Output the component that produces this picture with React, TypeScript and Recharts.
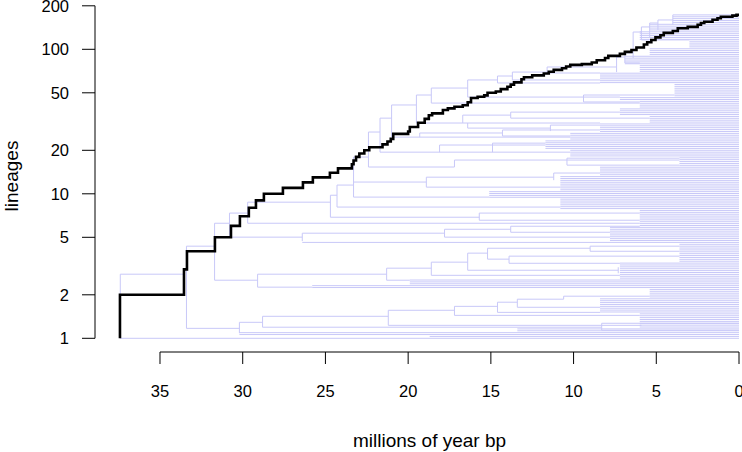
import React from 'react';
import { ComposedChart, Line, XAxis, YAxis, ReferenceLine } from 'recharts';

// lineages-through-time curve (time in My before present, lineage count)
const lttTime = [
  37.42, 37.42, 33.55, 33.37, 31.68, 30.71, 30.17, 29.63, 29.2, 28.72, 27.57, 26.36, 25.76, 24.73, 24.24,
  23.4, 23.3, 23.15, 22.95, 22.65, 22.35, 21.55, 21.25, 21.05, 20.9, 20.0, 19.9, 19.4, 19.0, 18.75, 18.55,
  17.9, 17.6, 17.2, 16.7, 16.4, 16.2, 15.8, 15.4, 15.2, 14.7, 14.4, 14.0, 13.8, 13.6, 13.15, 13.0, 12.5,
  11.8, 11.5, 11.2, 10.7, 10.45, 10.2, 9.5, 8.9, 8.6, 8.1, 7.9, 7.2, 6.9, 6.5, 6.2, 5.75, 5.55, 5.3, 5.05,
  4.75, 4.55, 4.0, 3.7, 3.1, 2.5, 2.3, 2.1, 1.6, 1.3, 1.1, 0.4, 0.15, 0,
];
const lttCount = [
  1, 2, 3, 4, 5, 6, 7, 8, 9, 10, 11, 12, 13, 14, 15,
  16, 17, 18, 19, 20, 21, 22, 23, 24, 26, 27, 29, 31, 33, 35, 36,
  38, 39, 40, 41, 43, 46, 47, 48, 50, 51, 53, 55, 57, 59, 62, 64, 66,
  68, 70, 72, 74, 76, 78, 79, 81, 84, 87, 90, 93, 96, 99, 103, 108, 112, 116, 121,
  125, 130, 134, 140, 143, 148, 152, 155, 160, 164, 168, 171, 173, 173,
];

// phylogeny drawn behind the curve; rows are tip slots (0 = bottom tip)
const nTips = 173;

// [first row, last row, branch start time] for tip branches running to the present
const tipBands = [
  [0, 0, 37.4], [1, 1, 18.7], [2, 3, 30.2], [4, 5, 13.4], [6, 13, 6.0], [14, 21, 8.4], [22, 26, 5.4],
  [27, 28, 25.8], [29, 31, 19.9], [32, 40, 7.2], [41, 50, 3.6], [51, 51, 26.4], [52, 59, 7.8],
  [60, 68, 6.0], [69, 74, 10.8], [75, 78, 15.1], [79, 86, 10.8], [87, 91, 8.4], [92, 96, 3.6],
  [97, 100, 10.2], [101, 105, 11.7], [106, 109, 10.2], [110, 114, 8.4], [115, 118, 5.4], [119, 122, 7.2],
  [123, 126, 6.0], [127, 128, 7.2], [129, 135, 3.9], [136, 141, 8.4], [142, 145, 6.0], [146, 150, 6.9],
  [151, 154, 5.4], [155, 158, 3.0], [159, 163, 6.0], [164, 167, 5.4], [168, 172, 4.0],
];

// [row, from time, to time] horizontal branches
const branches = [
  [34.1, 37.4, 33.5], [5.3, 33.4, 30.2], [8.5, 30.2, 28.8], [5.9, 28.8, 8.3], [11.7, 28.8, 21.2],
  [6.9, 21.2, 5.9], [14.9, 21.2, 17.2], [12.2, 17.2, 6.0], [17.0, 17.2, 14.6], [13.8, 14.6, 8.4],
  [19.2, 14.6, 13.4], [16.5, 13.4, 8.4], [20.8, 13.4, 10.6], [22.4, 10.6, 5.4], [4.3, 8.3, 0], [8.0, 8.3, 0],
  [49.0, 33.4, 31.7], [30.9, 31.7, 29.1], [27.2, 29.1, 25.8], [34.1, 29.1, 21.3], [30.9, 21.3, 19.9],
  [37.3, 21.3, 18.6], [33.5, 18.6, 7.2], [40.5, 18.6, 16.4], [36.2, 16.4, 7.3], [45.3, 16.4, 15.2],
  [47.9, 15.2, 9.0], [49.0, 9.0, 3.6], [46.3, 9.0, 3.6], [42.1, 15.2, 13.9], [43.7, 13.9, 3.6], [39.9, 13.9, 7.2],
  [61.2, 31.7, 30.8], [53.8, 30.8, 26.4], [55.9, 26.4, 17.8], [53.8, 17.8, 7.8], [58.0, 17.8, 13.8],
  [59.6, 13.8, 6.0], [56.4, 13.8, 7.8],
  [66.6, 30.8, 29.7], [61.2, 29.7, 6.0], [72.4, 29.7, 24.7], [64.4, 24.7, 15.7], [66.6, 15.7, 6.0],
  [62.8, 15.7, 6.0], [76.1, 24.7, 24.3], [69.8, 24.3, 10.8], [81.5, 24.3, 23.3], [75.1, 23.3, 15.1],
  [83.1, 23.3, 18.9], [85.7, 18.9, 11.2], [87.9, 11.2, 8.4], [80.4, 18.9, 10.8],
  [96.4, 23.3, 22.4], [91.1, 22.4, 17.2], [94.8, 17.2, 3.6], [109.7, 22.4, 21.7], [99.0, 21.7, 10.2],
  [102.8, 18.1, 11.7], [103.8, 14.9, 11.7], [117.1, 21.7, 21.0], [107.0, 21.0, 10.2], [109.2, 19.3, 14.3],
  [110.8, 14.3, 8.4], [107.6, 14.3, 10.2], [124.1, 21.0, 19.5], [114.5, 19.5, 8.4], [118.7, 16.7, 13.8],
  [120.3, 13.8, 7.2], [117.1, 13.8, 5.4], [111.8, 16.4, 11.4], [113.4, 11.4, 8.4],
  [129.4, 19.5, 18.6], [125.1, 18.6, 6.0], [133.1, 18.6, 16.4], [128.3, 16.4, 7.2], [137.4, 16.4, 14.6],
  [135.8, 14.6, 8.4], [139.5, 14.6, 13.7], [137.4, 13.7, 8.4], [141.6, 13.7, 11.6], [141.1, 11.6, 8.4],
  [144.3, 11.6, 7.4], [149.6, 7.4, 6.9], [146.4, 6.9, 6.0], [151.8, 6.9, 6.4], [162.9, 6.4, 5.9],
  [158.7, 5.9, 3.0], [165.6, 5.9, 5.4], [167.7, 5.4, 4.9], [169.3, 4.9, 4.0],
  [129.4, 9.4, 3.9], [125.7, 9.4, 6.0], [95.8, 10.4, 3.6], [92.1, 10.4, 3.6],
];

// [time, lower row, upper row] vertical node connectors
const links = [
  [37.4, 0, 34.1], [33.4, 5.3, 49.0], [30.2, 2.7, 8.5], [28.8, 5.9, 11.7], [8.3, 4.3, 8.0],
  [21.2, 6.9, 14.9], [17.2, 12.2, 17.0], [14.6, 13.8, 19.2], [13.4, 16.5, 20.8], [10.6, 20.8, 22.4],
  [31.7, 30.9, 61.2], [29.1, 27.2, 34.1], [21.3, 30.9, 37.3], [18.6, 33.5, 40.5], [16.4, 36.2, 45.3],
  [7.3, 34.6, 37.8], [15.2, 42.1, 47.9], [9.0, 46.3, 49.0], [13.9, 39.9, 43.7],
  [30.8, 53.8, 66.6], [26.4, 51.7, 55.9], [17.8, 53.8, 58.0], [13.8, 56.4, 59.6],
  [29.7, 61.2, 72.4], [24.7, 64.4, 76.1], [15.7, 62.8, 66.6], [24.3, 69.8, 81.5], [23.3, 75.1, 96.4],
  [18.9, 80.4, 85.7], [11.2, 84.1, 87.9],
  [22.4, 91.1, 109.7], [17.2, 91.1, 94.8], [21.7, 99.0, 117.1], [18.1, 99.0, 102.8], [14.9, 99.0, 103.8],
  [21.0, 107.0, 124.1], [19.3, 107.0, 109.2], [14.3, 107.6, 110.8],
  [19.5, 114.5, 129.4], [16.7, 114.5, 118.7], [13.8, 117.1, 120.3], [16.4, 111.8, 114.5], [11.4, 110.2, 113.4],
  [18.6, 125.1, 133.1], [16.4, 128.3, 137.4], [14.6, 135.8, 139.5], [13.7, 137.4, 141.6], [11.6, 141.1, 144.3],
  [7.4, 141.6, 149.6], [6.9, 146.4, 151.8], [6.4, 149.1, 162.9], [5.9, 158.7, 165.6], [5.4, 160.3, 167.7],
  [4.9, 164.0, 169.3], [4.0, 166.7, 172.0], [9.4, 125.7, 129.4], [10.4, 92.1, 95.8],
];

const xTicks = [35, 30, 25, 20, 15, 10, 5, 0];
const yTicks = [1, 2, 5, 10, 20, 50, 100, 200];

const FONT = '"Liberation Sans", Arial, Helvetica, sans-serif';
const X_DOMAIN: [number, number] = [-0.181, 38.929];
const Y_DOMAIN: [number, number] = [0.804, 212.5];

// tip slots are spread evenly on the log lineage axis
const rowY = (r: number) => Math.pow(nTips, r / (nTips - 1));

function buildTree() {
  const pts: { t: number; n: number | null }[] = [];
  const seg = (t1: number, r1: number, t2: number, r2: number) => {
    pts.push({ t: t1, n: rowY(r1) }, { t: t2, n: rowY(r2) }, { t: t2, n: null });
  };
  tipBands.forEach(([lo, hi, t]) => {
    for (let r = lo; r <= hi; r++) seg(t, r, 0, r);
  });
  branches.forEach(([r, a, b]) => seg(a, r, b, r));
  links.forEach(([t, lo, hi]) => seg(t, lo, t, hi));
  return pts;
}

const treeData = buildTree();
const lttData = lttTime.map((t, i) => ({ t, n: lttCount[i] }));

const XTick = ({ x, y, payload }: any) => (
  <text x={x} y={y} dy={31} textAnchor="middle" fontSize={16.5} fontFamily={FONT} fill="#000">
    {payload.value}
  </text>
);

const YTick = ({ x, y, payload }: any) => (
  <text x={x} y={y} dy={6} textAnchor="end" fontSize={16.5} fontFamily={FONT} fill="#000">
    {payload.value}
  </text>
);

export default function App() {
  return (
    <div style={{ position: 'absolute', left: 0, top: 0, width: 742, height: 452, overflow: 'hidden', background: '#fff' }}>
      <ComposedChart width={742} height={452} margin={{ top: 2, right: 0, bottom: 0, left: 0 }}>
        <XAxis
          dataKey="t"
          type="number"
          domain={X_DOMAIN}
          reversed
          allowDataOverflow
          ticks={xTicks}
          interval={0}
          height={100}
          axisLine={false}
          tickSize={12}
          tickMargin={2}
          stroke="#000"
          tickLine={{ stroke: '#000' }}
          tick={<XTick />}
          label={() => (
            <text x={429.5} y={447} textAnchor="middle" fontSize={19} fontFamily={FONT} fill="#000">
              millions of year bp
            </text>
          )}
        />
        <YAxis
          dataKey="n"
          type="number"
          scale="log"
          domain={Y_DOMAIN}
          allowDataOverflow
          ticks={yTicks}
          interval={0}
          width={95}
          axisLine={false}
          tickSize={13}
          tickMargin={13}
          stroke="#000"
          tickLine={{ stroke: '#000' }}
          tick={<YTick />}
          label={() => (
            <text x={18} y={176} transform="rotate(-90, 18, 176)" textAnchor="middle" fontSize={19} fontFamily={FONT} fill="#000">
              lineages
            </text>
          )}
        />
        <ReferenceLine segment={[{ x: 35, y: Y_DOMAIN[0] }, { x: 0, y: Y_DOMAIN[0] }]} stroke="#000" strokeWidth={1} ifOverflow="visible" />
        <ReferenceLine segment={[{ x: X_DOMAIN[1], y: 1 }, { x: X_DOMAIN[1], y: 200 }]} stroke="#000" strokeWidth={1} ifOverflow="visible" />
        <Line
          data={treeData}
          dataKey="n"
          type="linear"
          stroke="#c8c8f8"
          strokeWidth={1}
          dot={false}
          activeDot={false}
          connectNulls={false}
          isAnimationActive={false}
        />
        <Line
          data={lttData}
          dataKey="n"
          type="stepAfter"
          stroke="#000"
          strokeWidth={2.6}
          dot={false}
          activeDot={false}
          isAnimationActive={false}
        />
      </ComposedChart>
    </div>
  );
}
